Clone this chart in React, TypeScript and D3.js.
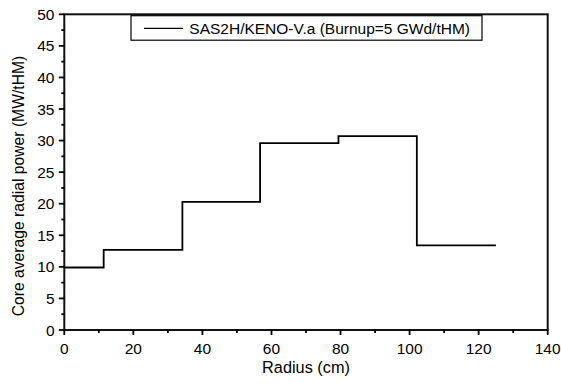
import React from "react";
import * as d3 from "d3";

const edges = [0, 11.4, 34.2, 56.7, 79.4, 102.1, 125.0];
const values = [9.9, 12.7, 20.3, 29.6, 30.7, 13.4];
const xTicks = [0, 20, 40, 60, 80, 100, 120, 140];
const yTicks = [0, 5, 10, 15, 20, 25, 30, 35, 40, 45, 50];
const legendLabel = "SAS2H/KENO-V.a (Burnup=5 GWd/tHM)";
const xTitle = "Radius (cm)";
const yTitle = "Core average radial power (MW/tHM)";

export default function App() {
  const W = 561, H = 387;
  const L = 64.3, R = 547.7, T = 14.3, B = 330;
  const x = d3.scaleLinear().domain([0, 140]).range([L, R]);
  const y = d3.scaleLinear().domain([0, 50]).range([B, T]);
  const pts: [number, number][] = [];
  values.forEach((v, i) => {
    pts.push([edges[i], v]);
    pts.push([edges[i + 1], v]);
  });
  const line = d3.line<[number, number]>().x(d => x(d[0])).y(d => y(d[1]));
  const xMinor = d3.range(10, 140, 20);
  const yMinor = d3.range(2.5, 50, 5);
  const font = "Liberation Sans, Arial, sans-serif";
  return (
    <svg width={W} height={H} style={{ position: "absolute", left: 0, top: 0 }} fontFamily={font}>
      <rect x={0} y={0} width={W} height={H} fill="white" />
      <path d={line(pts) || ""} fill="none" stroke="#000" strokeWidth={1.8} />
      <rect x={L} y={T} width={R - L} height={B - T} fill="none" stroke="#111" strokeWidth={2} />
      {xTicks.map(t => (
        <g key={"xt" + t}>
          <line x1={x(t)} x2={x(t)} y1={B} y2={B + 5} stroke="#000" strokeWidth={1.8} />
          <text x={x(t)} y={354} textAnchor="middle" fontSize={15.5}>{t}</text>
        </g>
      ))}
      {xMinor.map(t => (
        <line key={"xm" + t} x1={x(t)} x2={x(t)} y1={B} y2={B + 3} stroke="#000" strokeWidth={1.8} />
      ))}
      {yTicks.map(t => (
        <g key={"yt" + t}>
          <line x1={L - 5.5} x2={L} y1={y(t)} y2={y(t)} stroke="#000" strokeWidth={1.8} />
          <text x={54.5} y={y(t) + 5.5} textAnchor="end" fontSize={15.5}>{t}</text>
        </g>
      ))}
      {yMinor.map(t => (
        <line key={"ym" + t} x1={L - 3} x2={L} y1={y(t)} y2={y(t)} stroke="#000" strokeWidth={1.8} />
      ))}
      <rect x={131} y={15.7} width={351} height={24.5} fill="white" stroke="#000" strokeWidth={1.2} />
      <line x1={144} x2={183} y1={28.3} y2={28.3} stroke="#000" strokeWidth={1.2} />
      <text x={189.3} y={34.2} fontSize={15.5}>{legendLabel}</text>
      <text x={306} y={373} textAnchor="middle" fontSize={16.3}>{xTitle}</text>
      <text transform={`translate(24,186) rotate(-90)`} textAnchor="middle" fontSize={15.7}>{yTitle}</text>
    </svg>
  );
}
